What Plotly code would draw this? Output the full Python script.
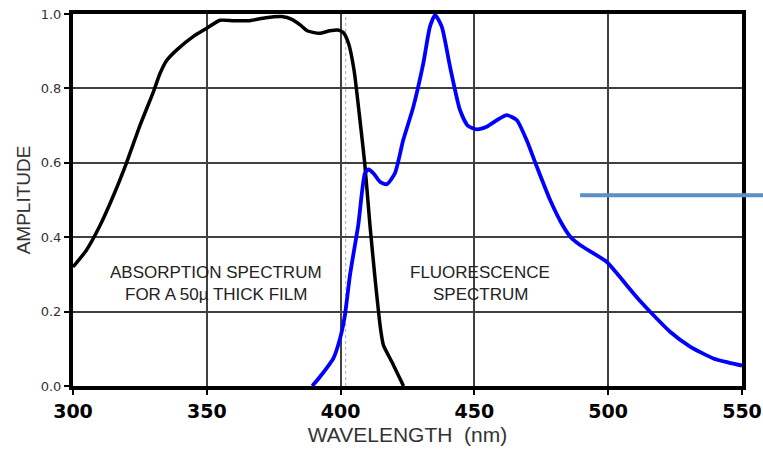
import plotly.graph_objects as go

# Absorption spectrum (black)
abs_wl = [300, 305, 310, 315, 320, 325, 330, 332.5, 335, 339, 345, 350, 355, 360, 366, 372, 378,
          382, 385, 387.5, 392, 396, 399, 401, 403, 405, 407, 409, 411, 413, 415, 416, 419.5, 423.5]
abs_val = [0.32, 0.365, 0.43, 0.51, 0.60, 0.70, 0.79, 0.84, 0.875, 0.905, 0.94, 0.962, 0.983, 0.982,
           0.982, 0.99, 0.993, 0.985, 0.97, 0.955, 0.948, 0.955, 0.957, 0.95, 0.92, 0.85, 0.73,
           0.60, 0.43, 0.28, 0.15, 0.11, 0.06, 0.0]

# Fluorescence spectrum (blue)
fl_wl = [389.4, 392.3, 395, 397.3, 399.8, 401.6, 403.5, 406.6, 409.1, 410.4, 412.5, 414.7, 417.2,
         420.3, 423.4, 427.2, 430.9, 433.4, 435.3, 437.8, 440.9, 444.6, 447.5, 450.9, 454.6, 458.5,
         462.1, 465.8, 469.5, 473.3, 478.3, 482.6, 486, 489.5, 494.4, 499.4, 503, 506.9, 511.5,
         516.3, 523.1, 530.6, 539.3, 545, 550]
fl_val = [0.0, 0.025, 0.05, 0.074, 0.128, 0.19, 0.298, 0.433, 0.572, 0.582, 0.57, 0.549, 0.542,
          0.572, 0.661, 0.751, 0.867, 0.966, 0.997, 0.966, 0.858, 0.742, 0.70, 0.69, 0.697, 0.715,
          0.728, 0.715, 0.661, 0.59, 0.50, 0.437, 0.40, 0.379, 0.357, 0.334, 0.305, 0.271, 0.232,
          0.195, 0.146, 0.106, 0.074, 0.063, 0.055]

x_ticks = [300, 350, 400, 450, 500, 550]
y_ticks = [0.0, 0.2, 0.4, 0.6, 0.8, 1.0]
y_tick_labels = ["0.0", "0.2", "0.4", "0.6", "0.8", "1.0"]

marker_wl = 401.9  # dotted reference line

labels = [
    (353.4, 0.304, "ABSORPTION SPECTRUM"),
    (353.4, 0.245, "FOR A 50\u00b5 THICK FILM"),
    (452.1, 0.304, "FLUORESCENCE"),
    (452.1, 0.245, "SPECTRUM"),
]

fig = go.Figure()
fig.add_trace(go.Scatter(x=abs_wl, y=abs_val, mode="lines",
                         line=dict(color="black", width=3.5, shape="spline", smoothing=0.6),
                         showlegend=False))
fig.add_trace(go.Scatter(x=fl_wl, y=fl_val, mode="lines",
                         line=dict(color="#0000ff", width=3.8, shape="spline", smoothing=0.6),
                         showlegend=False))

fig.add_shape(type="line", xref="x", yref="paper", x0=marker_wl, x1=marker_wl, y0=0, y1=1,
              line=dict(color="#aaaaaa", width=1, dash="dot"), layer="below")
fig.add_shape(type="line", xref="paper", yref="paper", x0=0.758, x1=1.04, y0=0.513, y1=0.513,
              line=dict(color="#5b8fc7", width=4))

for lx, ly, txt in labels:
    fig.add_annotation(x=lx, y=ly, text=txt, showarrow=False,
                       font=dict(family="Liberation Sans, Arial", size=17, color="#222222"),
                       xanchor="center", yanchor="middle")

fig.update_xaxes(range=[300, 550], tickvals=x_ticks, ticktext=[str(v) for v in x_ticks],
                 showgrid=True, gridcolor="#404040", gridwidth=2,
                 showline=True, linecolor="black", linewidth=4, mirror=True,
                 ticks="outside", ticklen=5, tickwidth=2, tickcolor="black",
                 tickfont=dict(family="DejaVu Sans", size=19, color="black", weight="bold"),
                 title=dict(text="WAVELENGTH  (nm)", standoff=8,
                            font=dict(family="Liberation Sans, Arial", size=21, color="#333333")),
                 zeroline=False, automargin=False)
fig.update_yaxes(range=[0, 1], tickvals=y_ticks, ticktext=y_tick_labels,
                 showgrid=True, gridcolor="#404040", gridwidth=2,
                 showline=True, linecolor="black", linewidth=4, mirror=True,
                 ticks="outside", ticklen=5, tickwidth=2, tickcolor="black",
                 tickfont=dict(family="DejaVu Sans", size=13, color="#333333"),
                 title=dict(text="AMPLITUDE", standoff=6,
                            font=dict(family="Liberation Sans, Arial", size=19, color="#333333")),
                 zeroline=False, automargin=False)

fig.update_layout(width=763, height=449, margin=dict(l=73, r=21, t=14, b=63),
                  plot_bgcolor="white", paper_bgcolor="white")

fig.write_html("out.html")
